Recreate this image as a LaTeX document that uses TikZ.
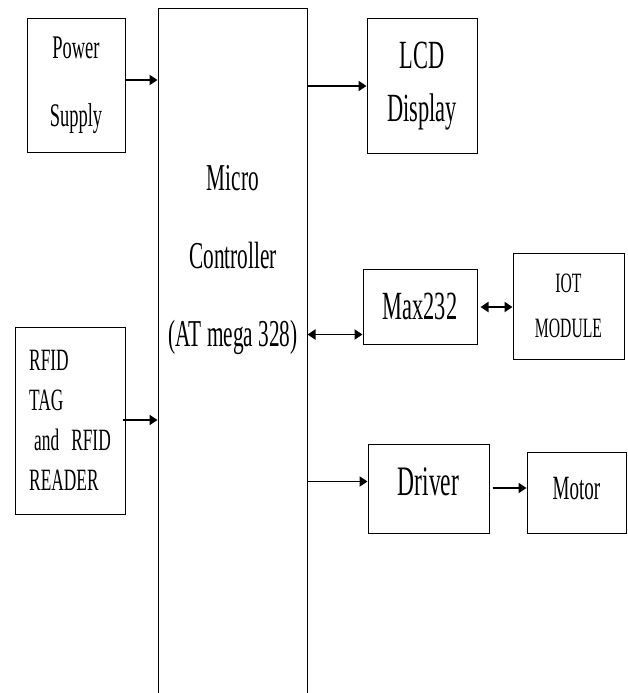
\documentclass[tikz,border=0pt]{standalone}
\usepackage{fontspec}
\setmainfont{Liberation Serif}[FakeStretch=0.56]
\usetikzlibrary{arrows.meta}

\begin{document}
\begin{tikzpicture}[
    x=1pt, y=-1pt,
    >={Triangle[length=8pt,width=10pt]},
    block/.style={draw,line width=1pt,inner sep=0pt,align=center},
    arrow/.style={->,line width=1.8pt},
    dblarrow/.style={<->,line width=1.8pt}
  ]
  \clip (0,0) rectangle (628,693);

  % inputs
  \node[block,minimum width=98pt,minimum height=133pt,font=\fontsize{33}{68}\selectfont] (power) at (76,85.5) {Power\\Supply};
  \node[block,align=left,minimum width=110pt,minimum height=187pt,font=\fontsize{31}{40}\selectfont] (rfid) at (70,420.5) {RFID\\TAG\\\hspace{5pt}and\hspace{12pt}RFID\\READER};

  % controller (runs off the bottom)
  \node[block,minimum width=149pt,minimum height=721pt] (mcu) at (232.5,369.5) {};
  \node[font=\fontsize{38}{78}\selectfont,align=center,inner sep=0pt] (mcutext) at (233,260) {Micro\\Controller\\(AT mega 328)};

  % outputs
  \node[block,minimum width=110pt,minimum height=134pt,font=\fontsize{40}{53}\selectfont] (lcd) at (422,86) {LCD\\Display};
  \node[block,minimum width=114pt,minimum height=75pt,font=\fontsize{40}{48}\selectfont] (max) at (420,306.5) {Max232};
  \node[block,minimum width=111pt,minimum height=106pt,font=\fontsize{28}{45}\selectfont] (iot) at (568.5,306) {IOT\\MODULE};
  \node[block,minimum width=121pt,minimum height=89pt,text depth=14pt,font=\fontsize{42}{50}\selectfont] (driver) at (428.5,488.5) {Driver};
  \node[block,minimum width=99pt,minimum height=81pt,text depth=8pt,font=\fontsize{34}{40}\selectfont] (motor) at (576.5,492.5) {Motor};

  \coordinate (pwrout) at ([yshift=5.5pt]power.east);
  \coordinate (rfidout) at ([xshift=-3pt,yshift=0.5pt]rfid.east);
  \coordinate (maxin) at ([yshift=10pt]max.south west);
  \coordinate (maxout) at ([xshift=3pt,yshift=-0.5pt]max.east);
  \coordinate (drvin) at ([yshift=7pt]driver.west);
  \coordinate (drvout) at ([xshift=3pt,yshift=0.5pt]driver.east);

  \draw[arrow] (pwrout) -- (pwrout -| mcu.west);
  \draw[arrow] (rfidout) -- (rfidout -| mcu.west);
  \draw[arrow] (mcu.east |- lcd.west) -- (lcd.west);
  \draw[dblarrow] (mcu.east |- maxin) -- (maxin);
  \draw[dblarrow] (maxout) -- (maxout -| iot.west);
  \draw[arrow] (mcu.east |- drvin) -- (drvin);
  \draw[arrow] (drvout) -- (drvout -| motor.west);
\end{tikzpicture}
\end{document}
